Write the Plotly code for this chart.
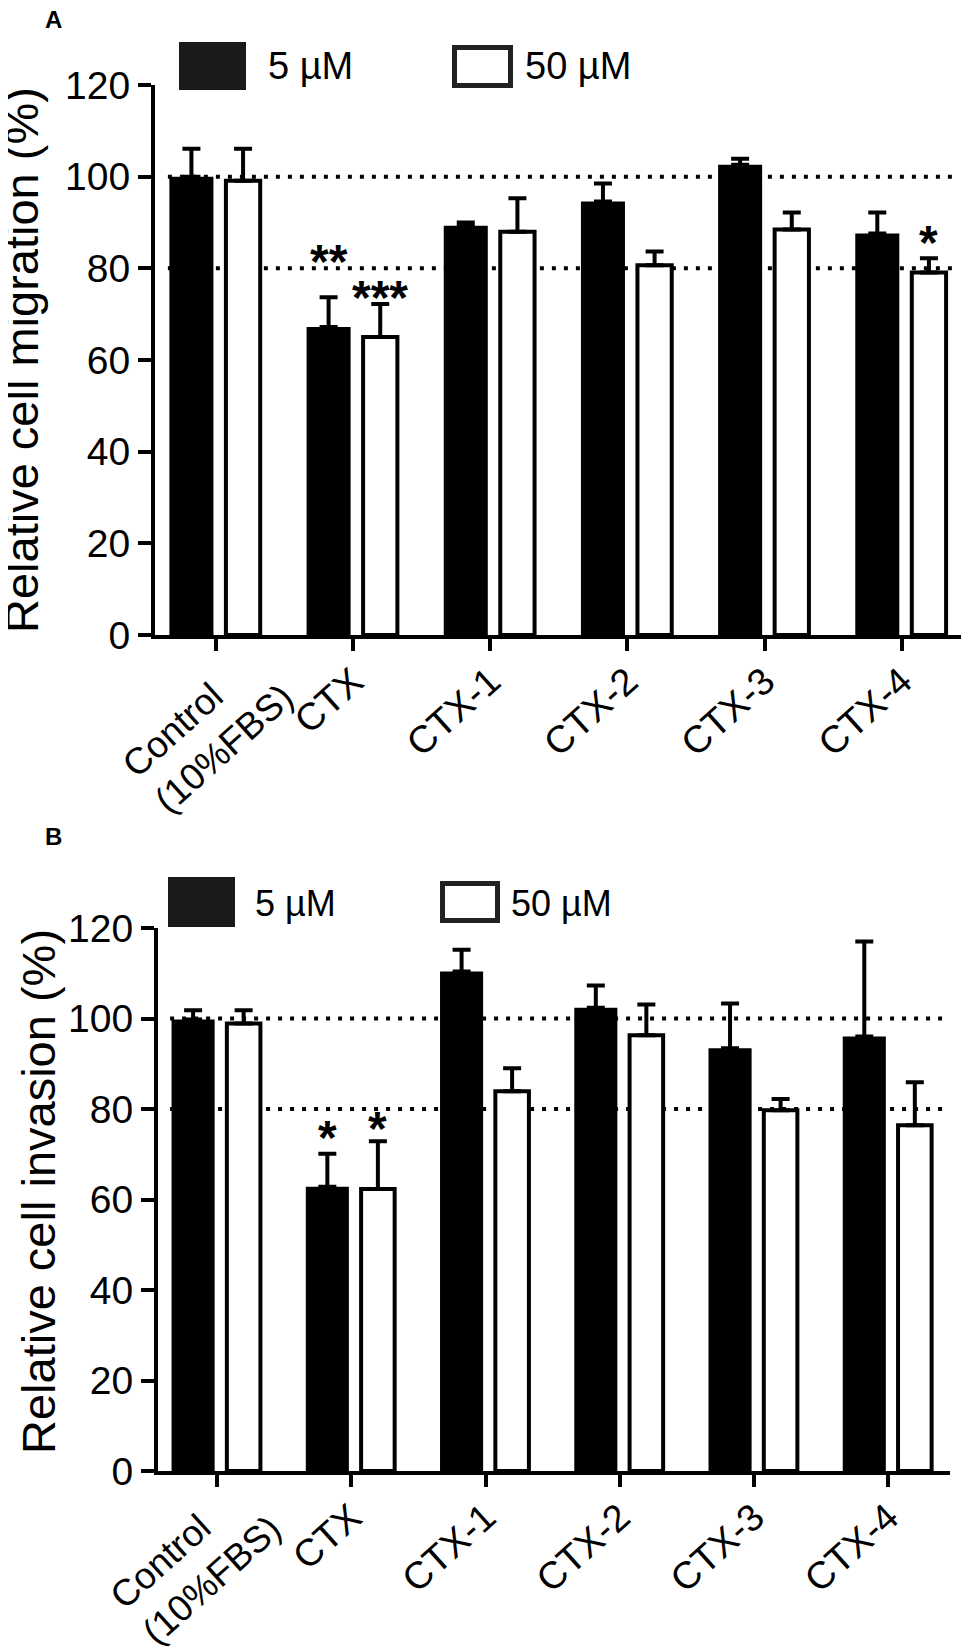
import plotly.graph_objects as go

# page body keeps its default 8px margin, so the figure is drawn 8px smaller
# and all pixel positions below are shifted by that amount
PAGE_W, PAGE_H = 969, 1652
PAD = 8
W, H = PAGE_W - PAD, PAGE_H - PAD

# ---- data ----
groups = ["Control<br>(10%FBS)", "CTX", "CTX-1", "CTX-2", "CTX-3", "CTX-4"]
# the two-line control label is drawn as a left-aligned rotated annotation
tick_labels = ["", "CTX", "CTX-1", "CTX-2", "CTX-3", "CTX-4"]

mig_5 = [100.0, 67.2, 89.3, 94.6, 102.6, 87.6]
mig_5_err = [6.1, 6.5, 0.7, 3.9, 1.3, 4.6]
mig_50 = [99.1, 65.0, 88.0, 80.7, 88.5, 79.1]
mig_50_err = [7.0, 7.2, 7.3, 3.0, 3.7, 3.1]

inv_5 = [99.8, 62.8, 110.4, 102.4, 93.4, 96.0]
inv_5_err = [2.0, 7.3, 4.8, 4.9, 9.9, 21.0]
inv_50 = [98.9, 62.3, 83.9, 96.3, 79.7, 76.4]
inv_50_err = [2.9, 10.6, 5.1, 6.8, 2.5, 9.5]

ref_lines = [100, 80]

# significance marks: (series, group index, label, y)
mig_sig = [("5", 1, "**", 83.3), ("50", 1, "***", 75.4), ("50", 5, "*", 87.4)]
inv_sig = [("5", 1, "*", 75.5), ("50", 1, "*", 77.5)]

y_ticks = [0, 20, 40, 60, 80, 100, 120]

FONT = "Liberation Sans, Arial, sans-serif"
TICK_ANGLE = -42
XTICK_SIZE = 38

# bar placement inside each group (category units)
OFF5, WID5 = -0.339, 0.321
OFF50, WID50 = 0.073, 0.25


def px(x):
    return (x - PAD) / W


def py(y):
    return 1 - (y - PAD) / H


fig = go.Figure()


def add_panel(fig, n, v5, e5, v50, e50):
    xa = "x" if n == 1 else "x2"
    ya = "y" if n == 1 else "y2"
    fig.add_trace(go.Bar(
        x=groups, y=v5, xaxis=xa, yaxis=ya, name="5 µM",
        offset=OFF5, width=WID5,
        marker=dict(color="black", line=dict(width=0)),
        error_y=dict(type="data", array=e5, arrayminus=[0] * len(e5),
                     symmetric=False, color="black", thickness=4, width=9),
        showlegend=False))
    fig.add_trace(go.Bar(
        x=groups, y=v50, xaxis=xa, yaxis=ya, name="50 µM",
        offset=OFF50, width=WID50,
        marker=dict(color="white", line=dict(color="black", width=4)),
        error_y=dict(type="data", array=e50, arrayminus=[0] * len(e50),
                     symmetric=False, color="black", thickness=4, width=9),
        showlegend=False))


add_panel(fig, 1, mig_5, mig_5_err, mig_50, mig_50_err)
add_panel(fig, 2, inv_5, inv_5_err, inv_50, inv_50_err)

axis_common = dict(showline=True, linecolor="black", linewidth=4,
                   ticks="outside", tickcolor="black", tickwidth=4,
                   showgrid=False, zeroline=False, automargin=False)
x_common = dict(type="category", ticklen=12, tickangle=TICK_ANGLE,
                tickvals=groups, ticktext=tick_labels,
                ticklabelstandoff=-7, tickfont=dict(size=XTICK_SIZE))
y_common = dict(range=[0, 120], tickvals=y_ticks, ticklen=13,
                tickfont=dict(size=39))

fig.update_layout(
    width=W, height=H,
    margin=dict(l=0, r=0, t=0, b=0, autoexpand=False),
    paper_bgcolor="white", plot_bgcolor="white",
    barmode="overlay",
    font=dict(family=FONT, color="black"),
    xaxis=dict(domain=[px(155), 1.0], range=[-0.444, 5.49], anchor="y",
               **x_common, **axis_common),
    yaxis=dict(domain=[py(635), py(85)], anchor="x", **y_common, **axis_common),
    xaxis2=dict(domain=[px(158), px(950)], range=[-0.44, 5.46], anchor="y2",
                **x_common, **axis_common),
    yaxis2=dict(domain=[py(1471), py(928)], anchor="x2", **y_common, **axis_common),
)

# control label (two lines, left aligned)
for xr, yr, dx, dy in (("x", "y", -8, -95), ("x2", "y2", -22, -91)):
    fig.add_annotation(x=0, y=0, xref=xr, yref=yr, text=groups[0],
                       textangle=TICK_ANGLE, align="left",
                       xanchor="center", yanchor="middle",
                       xshift=dx, yshift=dy, showarrow=False,
                       font=dict(size=37))

# dotted reference lines behind the bars
for xr, yr, x1 in (("x", "y", 5.40), ("x2", "y2", 5.45)):
    for v in ref_lines:
        fig.add_shape(type="line", xref=xr, yref=yr, x0=-0.35, x1=x1,
                      y0=v, y1=v, layer="below",
                      line=dict(color="black", width=4, dash="4px,8px"))

# significance stars
for xr, yr, sig in (("x", "y", mig_sig), ("x2", "y2", inv_sig)):
    for series, gi, lab, yv in sig:
        xc = gi + (OFF5 + WID5 / 2 if series == "5" else OFF50 + WID50 / 2)
        fig.add_annotation(x=xc, y=yv, xref=xr, yref=yr, text="<b>" + lab + "</b>",
                           showarrow=False, xanchor="center", yanchor="middle",
                           yshift=-8,
                           font=dict(size=48, family=FONT, color="black"))

# axis titles
fig.add_annotation(x=px(22), y=py(360), xref="paper", yref="paper",
                   text="Relative cell migration (%)", textangle=-90,
                   xanchor="center", yanchor="middle",
                   showarrow=False, font=dict(size=47))
fig.add_annotation(x=px(38), y=py(1192), xref="paper", yref="paper",
                   text="Relative cell invasion (%)", textangle=-90,
                   xanchor="center", yanchor="middle",
                   showarrow=False, font=dict(size=47))

# panel letters
for lab, yc in (("A", 19), ("B", 836)):
    fig.add_annotation(x=px(53), y=py(yc), xref="paper", yref="paper",
                       text="<b>" + lab + "</b>", xanchor="center", yanchor="middle",
                       height=18, showarrow=False, font=dict(size=24))

# legends drawn as boxes + text
legends = [
    # (black box, white box, text x 5, text x 50, y center, font size)
    ((179, 42, 246, 90), (452, 45, 513, 88), 266, 523, 66, 38),
    ((168, 877, 235, 927), (440, 881, 500, 923), 253, 509, 903, 36),
]
for bb, wb, tx5, tx50, yc, fs in legends:
    fig.add_shape(type="rect", xref="paper", yref="paper",
                  x0=px(bb[0]), x1=px(bb[2]), y0=py(bb[3]), y1=py(bb[1]),
                  fillcolor="#1a1a1a", line=dict(width=0))
    fig.add_shape(type="rect", xref="paper", yref="paper",
                  x0=px(wb[0] + 2.5), x1=px(wb[2] - 2.5), y0=py(wb[3] - 2.5), y1=py(wb[1] + 2.5),
                  fillcolor="white", line=dict(color="#222222", width=5))
    fig.add_annotation(x=px(tx5), y=py(yc), xref="paper", yref="paper", text="5 µM",
                       xanchor="left", yanchor="middle", showarrow=False,
                       font=dict(size=fs))
    fig.add_annotation(x=px(tx50), y=py(yc), xref="paper", yref="paper", text="50 µM",
                       xanchor="left", yanchor="middle", showarrow=False,
                       font=dict(size=fs))

fig.write_html("out.html")
